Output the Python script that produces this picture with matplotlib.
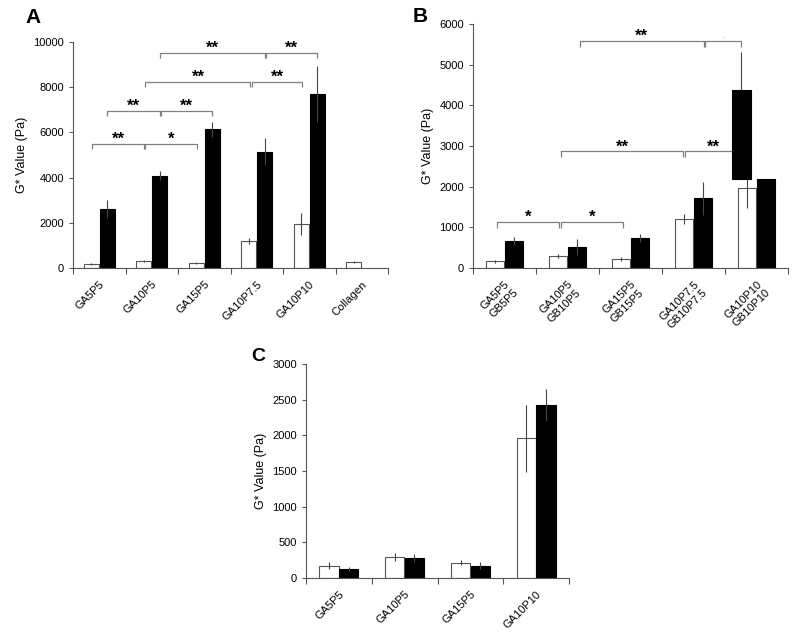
import matplotlib
matplotlib.use('Agg')
import matplotlib.pyplot as plt
import numpy as np

plt.rcParams['font.family'] = ['Liberation Sans', 'DejaVu Sans']

# Panel A
A_cats = ['GA5P5', 'GA10P5', 'GA15P5', 'GA10P7.5', 'GA10P10', 'Collagen']
A_white = [180, 300, 220, 1200, 1960, 250]
A_white_err = [40, 50, 40, 140, 480, 40]
A_black = [2620, 4090, 6130, 5150, 7690]
A_black_err = [390, 200, 340, 590, 1240]

# Panel B
B_cats = ['GA5P5\nGB5P5', 'GA10P5\nGB10P5', 'GA15P5\nGB15P5',
          'GA10P7.5\nGB10P7.5', 'GA10P10\nGB10P10']
B_white = [165, 300, 220, 1200, 1960]
B_white_err = [40, 50, 40, 120, 480]
B_black = [660, 520, 740, 1710, 2180]
B_black_err = [100, 200, 90, 410, 0]
# stray floating black block over GA10P10
B_float_bottom = 2200
B_float_top = 4380
B_float_err = 940

# Panel C
C_cats = ['GA5P5', 'GA10P5', 'GA15P5', 'GA10P10']
C_white = [170, 295, 215, 1960]
C_white_err = [50, 60, 35, 470]
C_black = [125, 280, 170, 2425]
C_black_err = [30, 60, 50, 220]

W, H = 800, 638
BW = 0.29
OFF = 0.15
ERR_C = '#444444'
BR_C = '#808080'


def make_ax(fig, l, r, b, t):
    return fig.add_axes([l / W, (H - b) / H, (r - l) / W, (b - t) / H])


def style_ax(ax, labels, ymax, ystep):
    n = len(labels)
    ax.set_xlim(-0.5, n - 0.5)
    ax.set_ylim(0, ymax)
    ax.set_yticks(np.arange(0, ymax + 1, ystep))
    ax.set_xticks(np.arange(-0.5, n, 1.0))
    ax.set_xticklabels([])
    ax.set_xticks(np.arange(n), minor=True)
    ax.set_xticklabels(labels, minor=True, rotation=45, ha='right',
                       rotation_mode='anchor', fontsize=8)
    ax.tick_params(axis='x', which='minor', length=0, pad=8)
    ax.tick_params(axis='x', which='major', length=4, width=0.8, color='#555555')
    ax.tick_params(axis='y', length=3, width=0.8, color='#555555', labelsize=8)
    for s in ['top', 'right']:
        ax.spines[s].set_visible(False)
    for s in ['left', 'bottom']:
        ax.spines[s].set_color('#555555')
        ax.spines[s].set_linewidth(0.8)
    ax.set_ylabel('G* Value (Pa)', fontsize=9)


def bars(ax, x, vals, errs, color):
    ax.bar(x, vals, BW, color=color, edgecolor='#555555' if color == 'white' else 'black',
           linewidth=0.8, zorder=2)
    ax.errorbar(x, vals, yerr=errs, fmt='none', ecolor=ERR_C, elinewidth=0.8,
                capsize=0, zorder=3)


def bracket(ax, x1, x2, y, label, h):
    ax.plot([x1, x1, x2, x2], [y - h, y, y, y - h], color=BR_C, lw=0.9,
            zorder=1, solid_capstyle='butt')
    if label == '.':
        ax.text((x1 + x2) / 2, y + h * 0.6, '.', ha='center', va='baseline',
                fontsize=5, color='#999999')
    else:
        ax.text((x1 + x2) / 2, y, label, ha='center', va='baseline',
                fontsize=12, fontweight='bold')


fig = plt.figure(figsize=(8, 6.38), dpi=100)

# ---- A ----
axA = make_ax(fig, 73, 388, 268, 42)
xA = np.arange(len(A_cats))
bars(axA, xA - OFF, A_white, A_white_err, 'white')
bars(axA, xA[:len(A_black)] + OFF, A_black, A_black_err, 'black')
hA = 230
bracket(axA, 0 - 0.14, 1 - 0.14, 5500, '**', hA)
bracket(axA, 1 - 0.12, 2 - 0.13, 5500, '*', hA)
bracket(axA, 0 + 0.15, 1 + 0.15, 6950, '**', hA)
bracket(axA, 1 + 0.17, 2 + 0.15, 6950, '**', hA)
bracket(axA, 1 - 0.12, 3 - 0.12, 8230, '**', hA)
bracket(axA, 3 - 0.09, 4 - 0.13, 8230, '**', hA)
bracket(axA, 1 + 0.15, 3 + 0.15, 9530, '**', hA)
bracket(axA, 3 + 0.18, 4 + 0.15, 9530, '**', hA)
style_ax(axA, A_cats, 10000, 2000)
fig.text(25 / W, (H - 23) / H, 'A', fontsize=15, fontweight='bold')

# ---- B ----
axB = make_ax(fig, 473, 788, 268, 24)
xB = np.arange(len(B_cats))
bars(axB, xB - OFF, B_white, B_white_err, 'white')
bars(axB, xB + OFF, B_black, B_black_err, 'black')
fx = xB[-1] - 0.24
axB.bar(fx, B_float_top - B_float_bottom, BW, bottom=B_float_bottom,
        color='black', edgecolor='black', linewidth=0.8, zorder=4)
axB.errorbar(fx, B_float_top, yerr=[[0], [B_float_err]], fmt='none',
             ecolor=ERR_C, elinewidth=0.8, capsize=0, zorder=4)
hB = 140
bracket(axB, 0 - 0.12, 1 - 0.14, 1130, '*', hB)
bracket(axB, 1 - 0.11, 2 - 0.12, 1130, '*', hB)
bracket(axB, 1 - 0.10, 3 - 0.16, 2870, '**', hB)
bracket(axB, 3 - 0.13, 4 - 0.24, 2870, '**', hB)
bracket(axB, 1 + 0.20, 3 + 0.16, 5580, '**', hB)
bracket(axB, 3 + 0.19, 4 - 0.24, 5580, '.', hB)
style_ax(axB, B_cats, 6000, 1000)
fig.text(413 / W, (H - 22) / H, 'B', fontsize=15, fontweight='bold')

# ---- C ----
axC = make_ax(fig, 306, 569, 578, 364)
xC = np.arange(len(C_cats))
bars(axC, xC - OFF, C_white, C_white_err, 'white')
bars(axC, xC + OFF, C_black, C_black_err, 'black')
style_ax(axC, C_cats, 3000, 500)
fig.text(251 / W, (H - 361) / H, 'C', fontsize=14, fontweight='bold')

fig.savefig('out.png', dpi=100)
